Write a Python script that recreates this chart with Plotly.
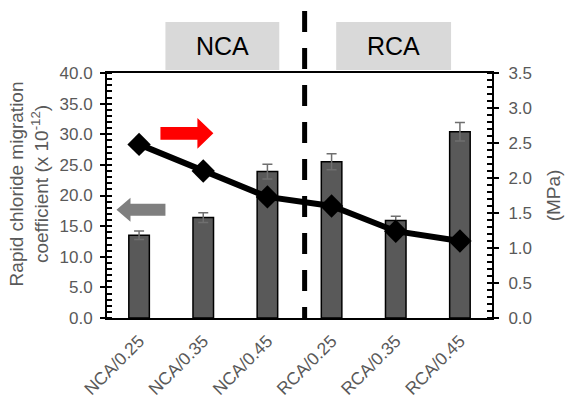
import plotly.graph_objects as go

# Mix designs (aggregate type / water-binder ratio)
categories = ["NCA/0.25", "NCA/0.35", "NCA/0.45", "RCA/0.25", "RCA/0.35", "RCA/0.45"]
# Rapid chloride migration coefficient (x 10^-12) with standard deviation
migration = [13.5, 16.4, 23.9, 25.5, 15.9, 30.4]
migration_err = [0.7, 0.8, 1.2, 1.3, 0.7, 1.5]
# Strength on the secondary axis (MPa)
strength = [2.48, 2.10, 1.73, 1.60, 1.24, 1.10]

W, H = 565, 401
L, R, T, B = 106.5, 492.0, 73.0, 318.5
FONT = "Arial, Liberation Sans, sans-serif"
GREY_TXT = "#595959"


def px(x, y):
    """Pixel position on the canvas -> paper coordinates."""
    return (x - L) / (R - L), (B - y) / (B - T)


def arrow_path(pts):
    coords = [px(x, y) for x, y in pts]
    return "M " + " L ".join(f"{a:.4f},{b:.4f}" for a, b in coords) + " Z"


x_idx = list(range(len(categories)))

fig = go.Figure()
fig.add_trace(go.Bar(
    x=x_idx, y=migration, width=0.32,
    marker=dict(color="#595959", line=dict(color="#000000", width=1.5)),
    error_y=dict(type="data", array=migration_err, color="#6f6f6f", thickness=1.5, width=5),
    yaxis="y", showlegend=False,
))
fig.add_trace(go.Scatter(
    x=x_idx, y=strength, mode="lines+markers",
    line=dict(color="#000000", width=6),
    marker=dict(symbol="diamond", size=18, color="#000000"),
    yaxis="y2", showlegend=False,
))

shapes = []
# dashed divider between the two aggregate groups
_, y_top = px(0, 10.8)
shapes.append(dict(type="line", xref="x", yref="paper", x0=2.58, x1=2.58, y0=y_top, y1=0,
                   line=dict(color="#000000", width=5, dash="21px,16px"), layer="above"))
# group label boxes
for x0, x1, label in [(165, 279, "NCA"), (336, 451, "RCA")]:
    a0, b0 = px(x0, 70)
    a1, b1 = px(x1, 22)
    shapes.append(dict(type="rect", xref="paper", yref="paper", x0=a0, x1=a1, y0=b0, y1=b1,
                       fillcolor="#d9d9d9", line=dict(width=0), layer="below"))
# axis direction arrows
shapes.append(dict(type="path", xref="paper", yref="paper", fillcolor="#ff0000", line=dict(width=0),
                   path=arrow_path([(160, 127), (197, 127), (197, 118), (213, 133.5),
                                    (197, 149), (197, 140), (160, 140)])))
shapes.append(dict(type="path", xref="paper", yref="paper", fillcolor="#7f7f7f", line=dict(width=0),
                   path=arrow_path([(165, 204), (130, 204), (130, 198), (116, 210),
                                    (130, 222), (130, 216), (165, 216)])))

annotations = []
for cx, label in [(222, "NCA"), (393.5, "RCA")]:
    ax, ay = px(cx, 46)
    annotations.append(dict(xref="paper", yref="paper", x=ax, y=ay, text=label, showarrow=False,
                            font=dict(family=FONT, size=25, color="#000000"),
                            xanchor="center", yanchor="middle"))
# primary axis title
tx, ty = px(28, 184)
annotations.append(dict(xref="paper", yref="paper", x=tx, y=ty, textangle=-90, showarrow=False,
                        text="Rapid chloride migration<br>coefficient (x 10<sup>-12</sup>)",
                        font=dict(family=FONT, size=19, color=GREY_TXT),
                        xanchor="center", yanchor="middle"))

axis_common = dict(showgrid=False, zeroline=False, showline=True, linecolor="#000000", linewidth=2,
                   tickfont=dict(family=FONT, size=17, color=GREY_TXT), automargin=False,
                   ticks="outside", ticklen=5, tickwidth=1.5, tickcolor="#000000")

fig.update_layout(
    width=W, height=H,
    margin=dict(l=L, r=W - R, t=T, b=H - B, pad=0, autoexpand=False),
    paper_bgcolor="white", plot_bgcolor="white",
    bargap=0.5,
    xaxis=dict(
        tickmode="array", tickvals=x_idx, ticktext=categories, range=[-0.5, 5.5],
        showgrid=False, zeroline=False, showline=True, linecolor="#000000", linewidth=2,
        mirror=True, ticks="", tickangle=-45, automargin=False, ticklabelstandoff=4,
        tickfont=dict(family=FONT, size=17.5, color=GREY_TXT),
    ),
    yaxis=dict(
        **axis_common, range=[0, 40], dtick=5, tickformat=".1f", ticklabelstandoff=4,
        minor=dict(dtick=1, ticks="inside", ticklen=5, tickwidth=1.5, tickcolor="#000000"),
    ),
    yaxis2=dict(
        **axis_common, range=[0, 3.5], dtick=0.5, tickformat=".1f", ticklabelstandoff=6,
        overlaying="y", side="right",
        minor=dict(dtick=0.1, ticks="inside", ticklen=5, tickwidth=1.5, tickcolor="#000000"),
        title=dict(text="(MPa)", font=dict(family=FONT, size=19, color=GREY_TXT), standoff=16),
    ),
    shapes=shapes,
    annotations=annotations,
)

fig.write_html("out.html")
